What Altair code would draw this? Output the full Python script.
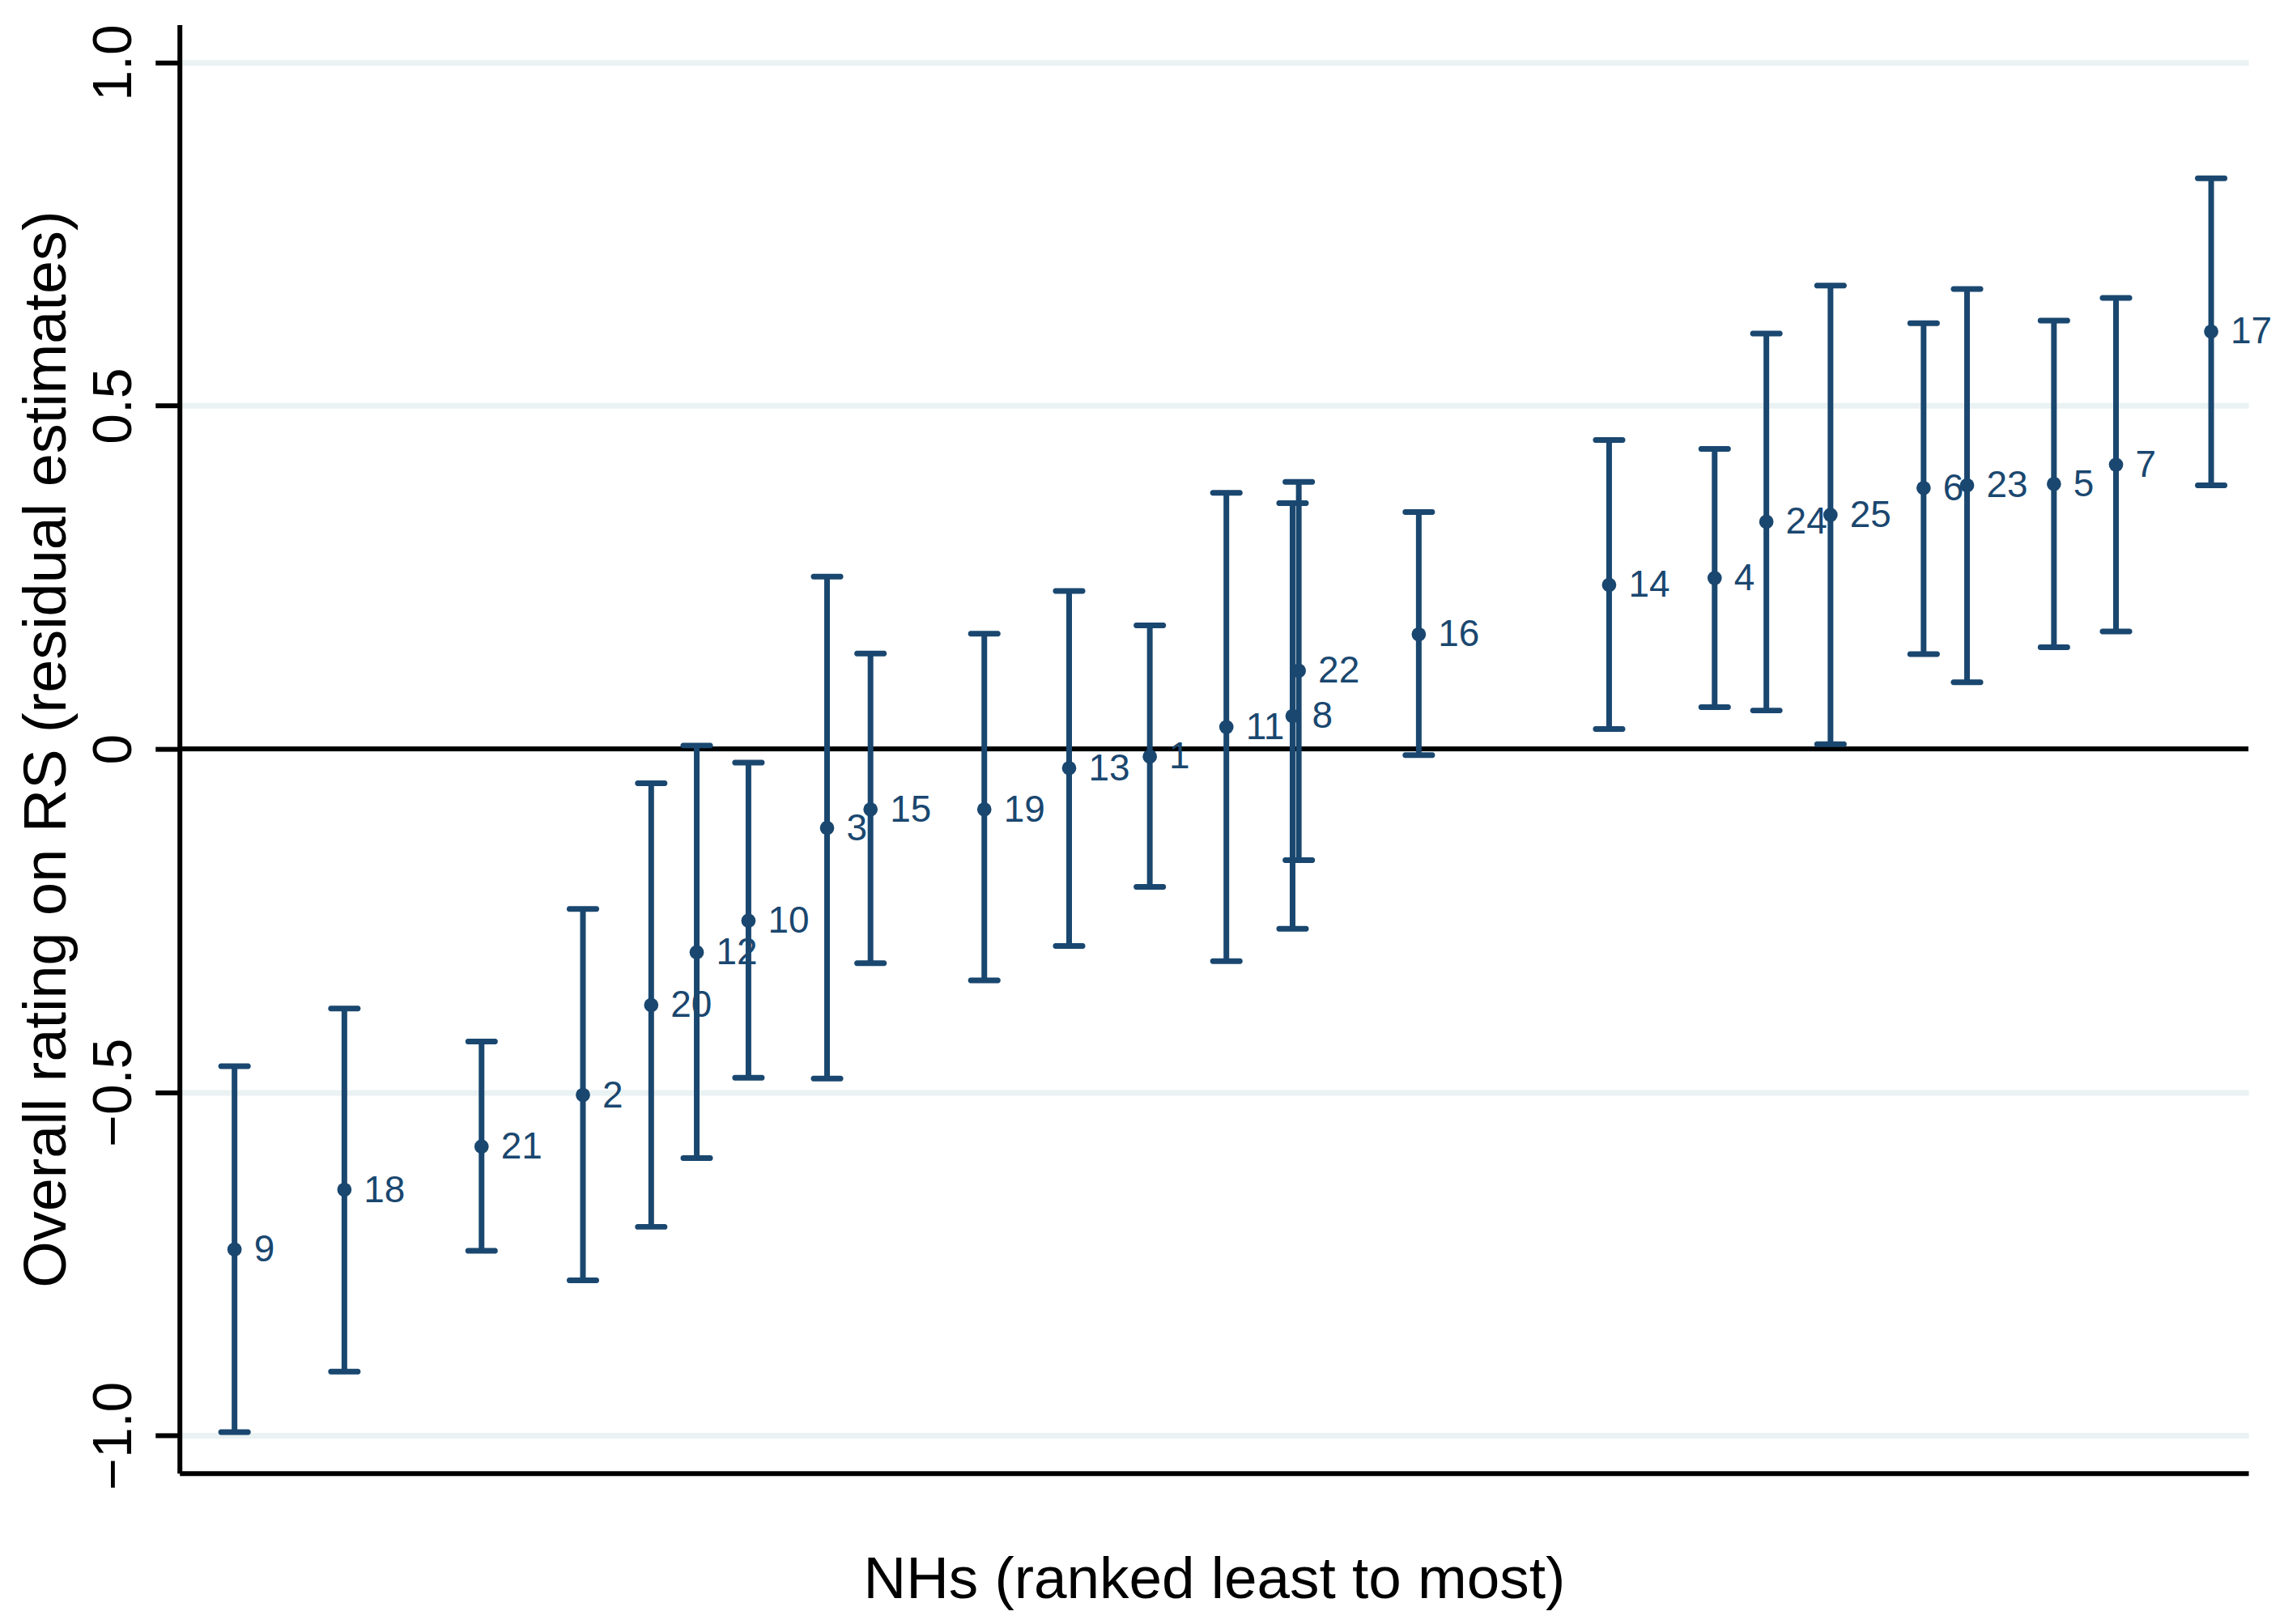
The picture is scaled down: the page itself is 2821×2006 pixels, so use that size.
import altair as alt
import pandas as pd

# NH identifiers (ranked least to most)
nh_ids = [9, 18, 21, 2, 20, 12, 10, 3, 15, 19, 13, 1, 11, 8, 22, 16, 14, 4, 24, 25, 6, 23, 5, 7, 17]
# horizontal position of each NH in the plot (0-100 scale)
x_pos = [2.66, 7.97, 14.6, 19.5, 22.8, 25.0, 27.5, 31.3, 33.4, 38.9, 43.0, 46.9, 50.6, 53.8, 54.1,
         59.9, 69.1, 74.2, 76.7, 79.8, 84.3, 86.4, 90.6, 93.6, 98.2]
# residual estimates
estimate = [-0.729, -0.642, -0.579, -0.504, -0.373, -0.296, -0.250, -0.115, -0.088, -0.088, -0.028,
            -0.011, 0.032, 0.048, 0.114, 0.167, 0.239, 0.249, 0.331, 0.341, 0.380, 0.384, 0.386,
            0.414, 0.608]
lower = [-0.995, -0.907, -0.731, -0.774, -0.696, -0.596, -0.479, -0.480, -0.312, -0.337, -0.287,
         -0.201, -0.309, -0.262, -0.162, -0.009, 0.029, 0.061, 0.056, 0.007, 0.138, 0.097, 0.148,
         0.171, 0.384]
upper = [-0.462, -0.378, -0.426, -0.233, -0.050, 0.005, -0.020, 0.251, 0.139, 0.168, 0.230,
         0.180, 0.373, 0.358, 0.389, 0.345, 0.450, 0.437, 0.605, 0.675, 0.620, 0.670, 0.624,
         0.657, 0.831]
y_ticks = [-1.0, -0.5, 0, 0.5, 1.0]

df = pd.DataFrame({"nh": [str(i) for i in nh_ids], "x": x_pos, "est": estimate,
                   "lo": lower, "hi": upper})

NAVY = "#1a476f"
FONT = "Liberation Sans"
W, H = 2559, 1792

xscale = alt.Scale(domain=[0, 100], nice=False, zero=False)
yscale = alt.Scale(domain=[-1.055, 1.055], nice=False, zero=False)

xaxis = alt.Axis(labels=False, ticks=False, grid=False, domain=True, domainColor="black",
                 domainWidth=6, title="NHs (ranked least to most)", titleFont=FONT,
                 titleFontSize=73, titleFontWeight="normal", titleColor="black",
                 titleBaseline="alphabetic", titleAlign="center", titleX=W / 2, titleY=154)
yaxis = alt.Axis(values=y_ticks, grid=True, gridColor="#eaf2f3", gridWidth=7,
                 domainColor="black", domainWidth=6, tickColor="black", tickWidth=6,
                 tickSize=30, labelPadding=30, labelAngle=270, labelAlign="center",
                 labelBaseline="alphabetic", labelFont=FONT, labelFontSize=68,
                 labelColor="black",
                 labelExpr="datum.value == 0 ? '0' : format(datum.value, '.1f')",
                 title="Overall rating on RS (residual estimates)", titleFont=FONT,
                 titleFontSize=74, titleFontWeight="normal", titleColor="black",
                 titleAngle=270, titleBaseline="alphabetic", titleAlign="center",
                 titleX=-141, titleY=H / 2)

base = alt.Chart(df)

bars = base.mark_rule(color=NAVY, strokeWidth=7).encode(
    x=alt.X("x:Q", scale=xscale, axis=xaxis),
    y=alt.Y("lo:Q", scale=yscale, axis=yaxis),
    y2="hi:Q",
)
cap_lo = base.mark_tick(color=NAVY, orient="horizontal", size=40, thickness=7,
                        cornerRadius=3, opacity=1).encode(
    x=alt.X("x:Q", scale=xscale), y=alt.Y("lo:Q", scale=yscale))
cap_hi = base.mark_tick(color=NAVY, orient="horizontal", size=40, thickness=7,
                        cornerRadius=3, opacity=1).encode(
    x=alt.X("x:Q", scale=xscale), y=alt.Y("hi:Q", scale=yscale))
points = base.mark_circle(color=NAVY, size=314, opacity=1).encode(
    x=alt.X("x:Q", scale=xscale), y=alt.Y("est:Q", scale=yscale))
labels = base.mark_text(color=NAVY, align="left", baseline="middle", dx=24, dy=1,
                        font=FONT, fontSize=46).encode(
    x=alt.X("x:Q", scale=xscale), y=alt.Y("est:Q", scale=yscale), text="nh:N")

zero = alt.Chart(pd.DataFrame({"z": [0]})).mark_rule(color="black", strokeWidth=6).encode(
    y=alt.Y("z:Q", scale=yscale))

chart = alt.layer(zero, bars, cap_lo, cap_hi, points, labels).properties(
    width=W, height=H,
    autosize=alt.AutoSizeParams(type="none"),
    padding={"left": 214, "top": 21, "right": 36, "bottom": 180},
    background="white",
).configure_view(stroke=None)

chart.save("out.html", embed_options={"renderer": "svg", "actions": False})
